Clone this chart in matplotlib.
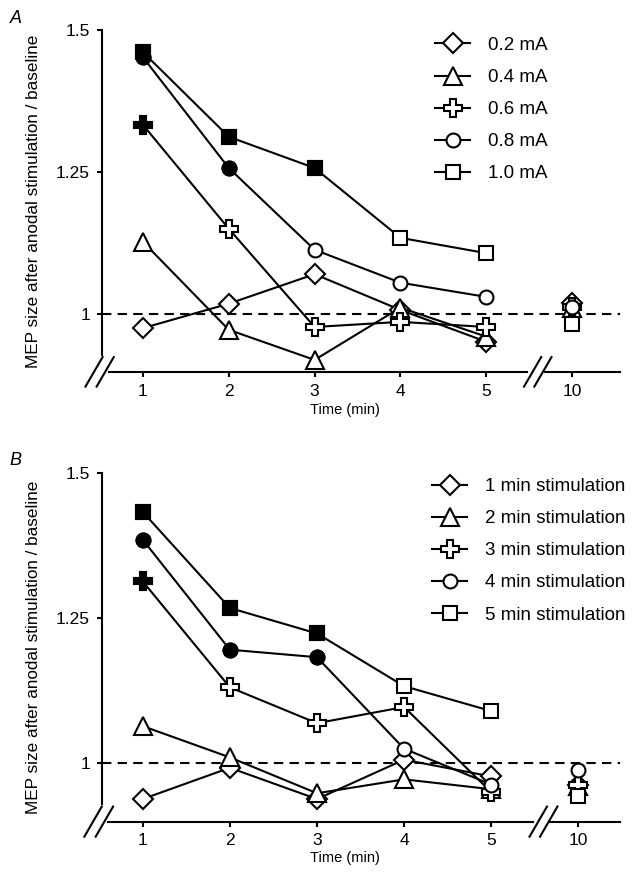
import numpy as np
import matplotlib.pyplot as plt

plt.rcParams['font.family'] = ['Liberation Sans', 'DejaVu Sans']

# time points; 10 min is drawn after an axis break at position 6
time_labels = ['1', '2', '3', '4', '5', '10']
time_pos = [1, 2, 3, 4, 5, 6]

markers = ['D', '^', 'P', 'o', 's']

# panel A: stimulation intensity
labels_a = ['0.2 mA', '0.4 mA', '0.6 mA', '0.8 mA', '1.0 mA']
vals_a = [
    [0.975, 1.018, 1.070, 1.007, 0.951, 1.019],
    [1.127, 0.972, 0.919, 1.011, 0.960, 1.010],
    [1.333, 1.150, 0.977, 0.986, 0.977, 1.012],
    [1.452, 1.257, 1.113, 1.055, 1.030, 1.012],
    [1.461, 1.312, 1.257, 1.134, 1.107, 0.982],
]
filled_a = [
    [0, 0, 0, 0, 0, 0],
    [0, 0, 0, 0, 0, 0],
    [1, 0, 0, 0, 0, 0],
    [1, 1, 0, 0, 0, 0],
    [1, 1, 1, 0, 0, 0],
]

# panel B: stimulation duration
labels_b = ['1 min stimulation', '2 min stimulation', '3 min stimulation',
            '4 min stimulation', '5 min stimulation']
vals_b = [
    [0.937, 0.991, 0.937, 1.005, 0.976, 0.962],
    [1.063, 1.009, 0.947, 0.971, 0.954, 0.960],
    [1.313, 1.130, 1.068, 1.096, 0.949, 0.962],
    [1.385, 1.195, 1.182, 1.024, 0.962, 0.988],
    [1.433, 1.267, 1.223, 1.132, 1.089, 0.942],
]
filled_b = [
    [0, 0, 0, 0, 0, 0],
    [0, 0, 0, 0, 0, 0],
    [1, 0, 0, 0, 0, 0],
    [1, 1, 1, 0, 0, 0],
    [1, 1, 1, 0, 0, 0],
]

msize = {'D': 10.5, '^': 12.5, 'P': 12.5, 'o': 10, 's': 10}

fig = plt.figure(figsize=(6.4, 8.96), dpi=100)
ax_a = fig.add_axes([0.159, 0.585, 0.81, 0.3815])
ax_b = fig.add_axes([0.159, 0.083, 0.81, 0.389])


def draw_panel(ax, labels, vals, filled, letter, xlim, leg_xy, xlab_y):
    ymin = 0.898
    ax.set_xlim(*xlim)
    ax.set_ylim(ymin, 1.5)
    ax.axhline(1.0, color='black', ls=(0, (4.5, 3)), lw=1.5, zorder=1)
    handles = []
    x = np.array(time_pos)
    for lab, v, f, m in zip(labels, vals, filled, markers):
        v = np.array(v)
        f = np.array(f, dtype=bool)
        h, = ax.plot(x[:5], v[:5], color='black', lw=1.5, marker=m,
                     ms=msize[m], mfc='white', mec='black', mew=1.5,
                     zorder=3, clip_on=False)
        ax.plot(x[5], v[5], ls='none', marker=m, ms=msize[m],
                mfc='white', mec='black', mew=1.5, zorder=3, clip_on=False)
        ax.plot(x[f], v[f], ls='none', marker=m, ms=msize[m],
                mfc='black', mec='black', mew=1.5, zorder=4, clip_on=False)
        handles.append(h)

    for s in ['top', 'right', 'bottom']:
        ax.spines[s].set_visible(False)
    ax.spines['left'].set_bounds(ymin + 0.03, 1.5)
    ax.spines['left'].set_linewidth(1.5)

    # broken x axis
    kw = dict(color='black', lw=1.5, clip_on=False)
    ax.plot([0.6, 5.48], [ymin, ymin], **kw)
    ax.plot([5.68, xlim[1]], [ymin, ymin], **kw)
    dy = 0.026
    for x0 in [0.43, 0.56, 5.54, 5.66]:
        ax.plot([x0 - 0.1, x0 + 0.1], [ymin - dy, ymin + dy], **kw)

    ax.set_xticks(time_pos)
    ax.set_xticklabels(time_labels)
    ax.set_yticks([1, 1.25, 1.5])
    ax.set_yticklabels(['1', '1.25', '1.5'])
    ax.tick_params(axis='both', direction='out', length=3.5, width=1.5,
                   labelsize=12.5, pad=5)
    ax.set_xlabel('Time (min)', fontsize=10.5)
    ax.xaxis.set_label_coords(0.47, xlab_y)
    ax.set_ylabel('MEP size after anodal stimulation / baseline',
                  fontsize=12.3)
    ax.yaxis.set_label_coords(-0.118, 0.5)
    ax.legend(handles, labels, loc='upper left', frameon=False,
              fontsize=13.5, handlelength=1.87, handletextpad=0.96,
              labelspacing=0.8, borderpad=0, borderaxespad=0,
              bbox_to_anchor=leg_xy)
    ax.text(-0.178, 1.035, letter, transform=ax.transAxes, fontsize=13,
            style='italic', va='center', ha='left')


draw_panel(ax_a, labels_a, vals_a, filled_a, 'A', (0.52, 6.56),
           (0.643, 0.98), -0.09)
draw_panel(ax_b, labels_b, vals_b, filled_b, 'B', (0.53, 6.48),
           (0.637, 0.986), -0.083)

fig.savefig('out.png', dpi=100)
